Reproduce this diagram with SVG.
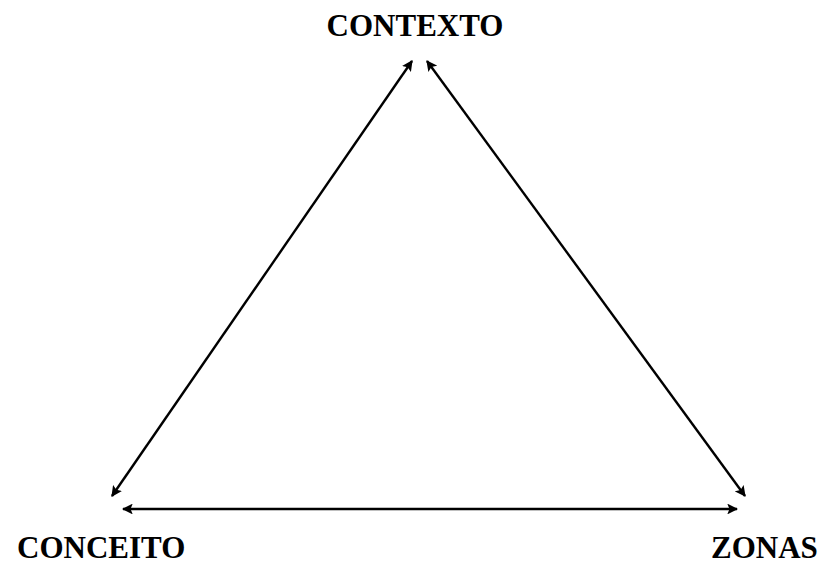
<svg xmlns="http://www.w3.org/2000/svg" width="822" height="567" viewBox="0 0 822 567">
<style>
.lbl{font-family:"Liberation Serif","Times New Roman",serif;font-weight:bold;font-size:31px;fill:#000}
.edge{stroke:#000;stroke-width:2.4;fill:none;marker-start:url(#ah);marker-end:url(#ah)}
</style>
<defs>
<marker id="ah" viewBox="0 0 10 10" refX="9" refY="5" markerWidth="4.5" markerHeight="4.5" orient="auto-start-reverse" markerUnits="strokeWidth">
<path d="M0,0 L10,5 L0,10 L2,5 z" fill="#000"/>
</marker>
</defs>
<rect width="822" height="567" fill="#fff"/>
<g id="connectors">
<line class="edge" x1="112" y1="496" x2="412" y2="61"/>
<line class="edge" x1="427" y1="61" x2="745" y2="496"/>
<line class="edge" x1="123" y1="509" x2="737" y2="509"/>
</g>
<g id="contexto"><text class="lbl" x="415" y="36" text-anchor="middle">CONTEXTO</text></g>
<g id="conceito"><text class="lbl" x="17" y="558">CONCEITO</text></g>
<g id="zonas"><text class="lbl" x="711" y="558">ZONAS</text></g>
</svg>
